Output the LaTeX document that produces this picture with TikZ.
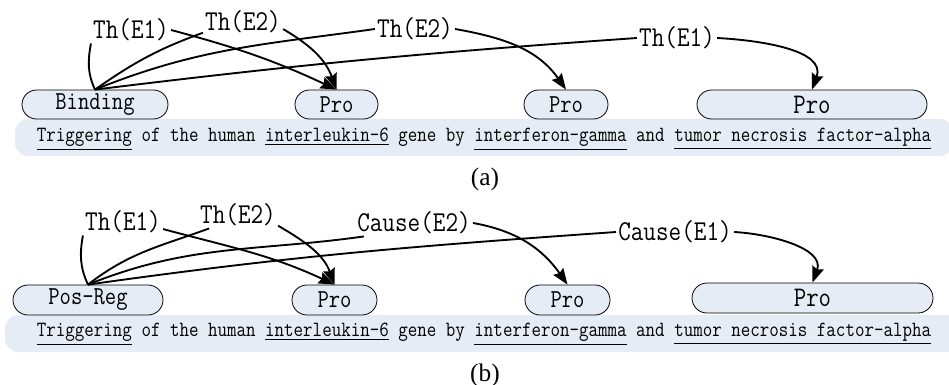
\documentclass[tikz,border=0pt]{standalone}
\usepackage{fontspec}
\setmainfont{Liberation Serif}
\setmonofont{Latin Modern Mono}[FakeStretch=0.85]
\usetikzlibrary{shapes.misc,arrows.meta}
\definecolor{tokblue}{RGB}{230,236,246}
\newcommand{\trigsent}{\underline{Triggering} of the human \underline{interleukin-6} gene by \underline{interferon-gamma} and \underline{tumor necrosis factor-alpha}}
\tikzset{
  trig/.style={rounded rectangle, draw, line width=0.6pt, fill=tokblue, minimum height=21.75pt, inner sep=0pt, font=\ttfamily\fontsize{19.4}{21}\selectfont},
  band/.style={fill=tokblue, rounded corners=10pt, minimum height=27.75pt, inner sep=0pt},
  sent/.style={font=\ttfamily\fontsize{16.3}{18}\selectfont, inner sep=0pt},
  role/.style={font=\ttfamily\fontsize{21.6}{23}\selectfont, inner sep=1.5pt},
  arg/.style={line width=1.4pt, -{Stealth[length=12pt,width=9pt,inset=1.5pt]}},
  link/.style={line width=1.4pt},
  subcap/.style={font=\fontsize{19}{21}\selectfont, inner sep=0pt}
}
\begin{document}
\begin{tikzpicture}[x=0.75pt,y=-0.75pt]
    \useasboundingbox (0,0) rectangle (949,385);
    % (a) binding event
    \node[band, minimum width=703.5pt] (bandA) at (484,137.5) {};
    \node[sent] (sentA) at (484,139) {\trigsent};
    \node[trig, minimum width=109.5pt] (bindA) at (95,104.5) {Binding};
    \node[trig, minimum width=62.25pt] (proA1) at (336.5,104.5) {Pro};
    \node[trig, minimum width=63pt] (proA2) at (566,104.5) {Pro};
    \node[trig, minimum width=172.5pt, font=\ttfamily\fontsize{21.3}{23}\selectfont] (proA3) at (812,104.5) {Pro};
    \node[role] (thA1) at (131,30) {Th(E1)};
    \node[role] (thA2) at (243,22) {Th(E2)};
    \node[role] (thA3) at (415,29) {Th(E2)};
    \node[role] (thA4) at (677,38) {Th(E1)};
    \node[subcap] (capA) at (485,179) {(a)};
    \foreach \source/\dest/\outang/\inang in {bindA.north/thA2.195/35/200, bindA.north/thA3.west/22/188, bindA.north/thA4.west/7/184}
      \draw[link] (\source) to[out=\outang,in=\inang] (\dest);
    \draw[link] (thA1.south west) to[out=-100,in=115] (bindA.north);
    \foreach \source/\dest/\outang/\inang in {thA1.east/proA1.north/-15/155, thA2.-10/proA1.north/-30/110, thA3.east/proA2.north/-10/125, thA4.east/proA3.north/-3/70}
      \draw[arg] (\source) to[out=\outang,in=\inang] (\dest);
    % (b) positive regulation event
    \node[band, minimum width=718.5pt] (bandB) at (484,333.5) {};
    \node[sent] (sentB) at (484,334) {\trigsent};
    \node[trig, minimum width=112.5pt, minimum height=22.5pt] (posB) at (88,300) {Pos-Reg};
    \node[trig, minimum width=63.75pt, minimum height=22.5pt] (proB1) at (334.5,300) {Pro};
    \node[trig, minimum width=63.75pt, minimum height=22.5pt] (proB2) at (567.5,300) {Pro};
    \node[trig, minimum width=180.75pt, minimum height=22.5pt, font=\ttfamily\fontsize{21.3}{23}\selectfont] (proB3) at (812.5,298) {Pro};
    \node[role] (thB1) at (123,222) {Th(E1)};
    \node[role] (thB2) at (238,215) {Th(E2)};
    \node[role] (causeB3) at (414,223) {Cause(E2)};
    \node[role] (causeB4) at (675,232) {Cause(E1)};
    \node[subcap] (capB) at (485,375) {(b)};
    \foreach \source/\dest/\outang/\inang in {posB.north/thB2.205/38/200, posB.north/causeB3.195/22/188, posB.north/causeB4.west/8/184}
      \draw[link] (\source) to[out=\outang,in=\inang] (\dest);
    \draw[link] (thB1.south west) to[out=-100,in=115] (posB.north);
    \foreach \source/\dest/\outang/\inang in {thB1.-10/proB1.north/-15/155, thB2.-15/proB1.north/-30/110, causeB3.east/proB2.north/-10/125, causeB4.east/proB3.north/-3/70}
      \draw[arg] (\source) to[out=\outang,in=\inang] (\dest);
\end{tikzpicture}
\end{document}
